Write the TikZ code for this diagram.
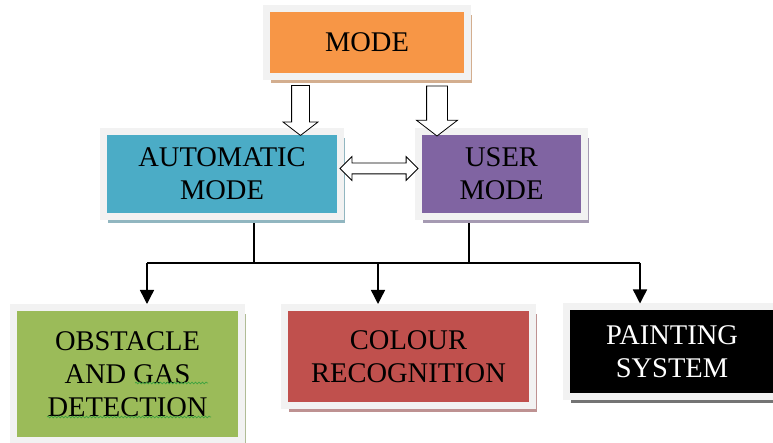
\documentclass[tikz,border=0pt]{standalone}
\usepackage{fontspec}
\setmainfont{Liberation Serif}
\newfontfamily\boxfont{Liberation Serif}
\usetikzlibrary{shapes.arrows,shadows,arrows.meta,decorations.pathmorphing}
\definecolor{frame}{HTML}{F2F2F2}
\definecolor{modeorange}{HTML}{F79646}
\definecolor{autoblue}{HTML}{4BACC6}
\definecolor{userpurple}{HTML}{8064A2}
\definecolor{obstgreen}{HTML}{9BBB59}
\definecolor{colourred}{HTML}{C0504D}
\definecolor{spellgreen}{HTML}{3FA33F}
\tikzset{box/.style={draw=frame, line width=7pt, fill=#1, align=center, inner sep=0pt,
  font=\boxfont\fontsize{28.5}{33}\selectfont,
  drop shadow={shadow xshift=4.5pt, shadow yshift=-6.5pt, fill=#1!55!gray, opacity=.7}}}
\begin{document}
\begin{tikzpicture}[x=1pt,y=-1pt]
\tikzstyle{wire} = [line width=1.4pt, draw=black]
\tikzstyle{tip} = [-{Triangle[length=14pt,width=14pt]}]
\tikzstyle{hollow} = [single arrow, draw=black, fill=white, line width=.8pt, inner xsep=0pt, single arrow tip angle=105, rotate=-90]
\tikzstyle{squiggle} = [draw=spellgreen, line width=.7pt, decorate, decoration={snake, amplitude=.9pt, segment length=3.5pt}]
\useasboundingbox [fill=white] (0,0) rectangle (773,443);

% boxes
\node [box=modeorange, minimum width=201pt, minimum height=68pt] (mode) at (367,42.5) {MODE};
\node [box=autoblue, minimum width=237pt, minimum height=85pt] (auto) at (222,174) {AUTOMATIC\\MODE};
\node [box=userpurple, minimum width=166pt, minimum height=85pt] (user) at (501.5,174) {USER\\MODE};
\node [box=obstgreen, minimum width=228pt, minimum height=133pt] (obst) at (127.5,374) {OBSTACLE\\AND GAS\\DETECTION};
\node [box=colourred, minimum width=248pt, minimum height=98pt] (colour) at (408.5,356.5) {COLOUR\\RECOGNITION};
\node [box=black, text=white, minimum width=211pt, minimum height=89pt] (paint) at (672,351.5) {PAINTING\\SYSTEM};

% hollow arrows
\node [hollow, minimum height=50pt, inner ysep=8.5pt, single arrow head extend=8.5pt] (mode2auto) at (300.5,107) {};
\node [hollow, minimum height=50pt, inner ysep=10pt, single arrow head extend=10pt] (mode2user) at (437,107) {};
\node [double arrow, draw=black, fill=white, line width=.8pt, inner xsep=0pt, inner ysep=5pt, minimum height=78pt, double arrow head extend=6.5pt] (auto2user) at (379,168.5) {};

% bus
\coordinate (joinA) at (254,263);
\coordinate (joinU) at (469,263);
\coordinate (busO) at (147,263);
\coordinate (busC) at (378,263);
\coordinate (busP) at (640,263);
\draw [wire, shorten <=3.5pt] (auto.south -| joinA) to (joinA);
\draw [wire, shorten <=3.5pt] (user.south -| joinU) to (joinU);
\draw [wire] (busO) to (busP);
\draw [wire, tip] (busO) to (busO |- obst.north);
\draw [wire, tip] (busC) to (busC |- colour.north);
\draw [wire, tip] (busP) to (busP |- paint.north);

% spell check marks
\draw [squiggle] (135,383) to (208,383);
\draw [squiggle] (47,417) to (211,417);
\end{tikzpicture}
\end{document}
